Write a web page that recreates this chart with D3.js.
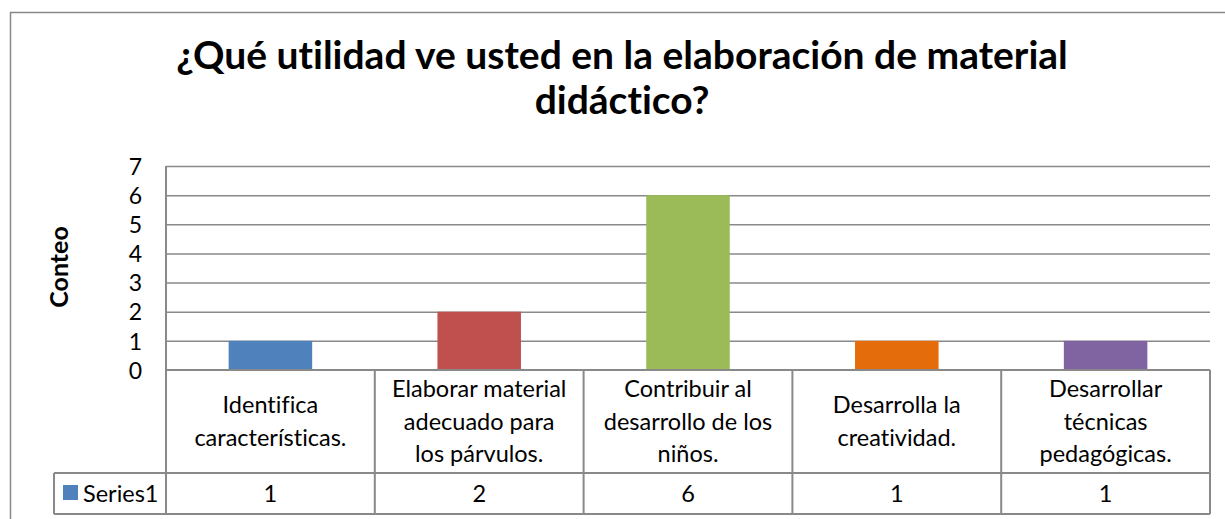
<!DOCTYPE html>
<html><head><meta charset="utf-8">
<script src="https://cdn.jsdelivr.net/npm/d3@7"></script>
<style>body{margin:0;background:#fff}svg{display:block}text{font-family:Lato,"Open Sans",sans-serif;fill:#000;font-variant-ligatures:none;font-feature-settings:"liga" 0}</style>
</head><body>
<svg id="c" width="1225" height="519"></svg>
<script>
const titleLines = ["¿Qué utilidad ve usted en la elaboración de material", "didáctico?"];
const categories = [
  ["Identifica", "características."],
  ["Elaborar material", "adecuado para", "los párvulos."],
  ["Contribuir al", "desarrollo de los", "niños."],
  ["Desarrolla la", "creatividad."],
  ["Desarrollar", "técnicas", "pedagógicas."]
];
const values = [1, 2, 6, 1, 1];
const colors = ["#4F81BD", "#C0504D", "#9BBB59", "#E46C0A", "#8064A2"];
const yTicks = [0, 1, 2, 3, 4, 5, 6, 7];
const seriesName = "Series1";
const yTitle = "Conteo";

const svg = d3.select("#c");
const L = 166, R = 1210, T = 166, B = 370;
const rowCat = 473, rowEnd = 514, legLeft = 54;
const gridCol = "#898989";

// outer frame
svg.append("rect").attr("x", 10.5).attr("y", 12.5).attr("width", 1230).attr("height", 530)
  .attr("fill", "none").attr("stroke", "#888").attr("stroke-width", 1.5);

const x = d3.scaleBand().domain(d3.range(values.length)).range([L, R]).paddingInner(0).paddingOuter(0);
const y = d3.scaleLinear().domain([0, 7]).range([B, T]);

// gridlines
svg.append("g").selectAll("line").data(yTicks.filter(d => d > 0)).join("line")
  .attr("x1", L).attr("x2", R).attr("y1", d => y(d) + 0.5).attr("y2", d => y(d) + 0.5)
  .attr("stroke", gridCol).attr("stroke-width", 1.5);

// bars
const bw = x.bandwidth() * 0.4;
svg.append("g").selectAll("rect").data(values).join("rect")
  .attr("x", (d, i) => x(i) + (x.bandwidth() - bw) / 2)
  .attr("width", bw)
  .attr("y", d => y(d))
  .attr("height", d => y(0) - y(d))
  .attr("fill", (d, i) => colors[i]);

// y axis via d3
const yAxis = d3.axisLeft(y).tickValues(yTicks).tickSize(0).tickPadding(24).tickFormat(d3.format("d"));
const ga = svg.append("g").attr("transform", `translate(${L},0)`).call(yAxis);
ga.select(".domain").remove();
ga.selectAll("text").attr("font-size", 23).attr("font-family", "Lato").attr("dy", "0.36em").attr("fill", "#000");

// y title
svg.append("text").attr("transform", "translate(68,267) rotate(-90)").attr("text-anchor", "middle")
  .attr("font-size", 25).attr("font-weight", "bold").text(yTitle);

// table lines
const tl = svg.append("g").attr("stroke", gridCol).attr("stroke-width", 2);
tl.append("line").attr("x1", L).attr("x2", R).attr("y1", B).attr("y2", B);
tl.append("line").attr("x1", legLeft).attr("x2", R).attr("y1", rowCat).attr("y2", rowCat);
tl.append("line").attr("x1", legLeft).attr("x2", R).attr("y1", rowEnd).attr("y2", rowEnd);
tl.append("line").attr("x1", legLeft).attr("x2", legLeft).attr("y1", rowCat).attr("y2", rowEnd);
tl.append("line").attr("x1", L).attr("x2", L).attr("y1", T).attr("y2", rowEnd);
tl.selectAll(".v").data(d3.range(1, values.length + 1)).join("line")
  .attr("x1", i => x(i) ?? R).attr("x2", i => x(i) ?? R).attr("y1", B).attr("y2", rowEnd);

// category labels
const lh = 32.5;
categories.forEach((lines, i) => {
  const cx = x(i) + x.bandwidth() / 2;
  const mid = (B + rowCat) / 2;
  const first = mid - (lines.length - 1) * lh / 2 + 8;
  const t = svg.append("text").attr("text-anchor", "middle").attr("font-size", 23.5);
  lines.forEach((ln, k) => t.append("tspan").attr("x", cx).attr("y", first + k * lh).text(ln));
});

// values row
svg.append("g").selectAll("text").data(values).join("text")
  .attr("x", (d, i) => x(i) + x.bandwidth() / 2).attr("y", 502)
  .attr("text-anchor", "middle").attr("font-size", 23.5).text(d => d);

// legend key
svg.append("rect").attr("x", 63).attr("y", 485).attr("width", 15).attr("height", 15).attr("fill", colors[0]);
svg.append("text").attr("x", 83).attr("y", 502).attr("font-size", 23.5).text(seriesName);

// title
const tt = svg.append("text").attr("text-anchor", "middle").attr("font-size", 39).attr("font-weight", "bold");
titleLines.forEach((ln, k) => tt.append("tspan").attr("x", 622).attr("y", 69 + k * 45).text(ln));
</script>
</body></html>
